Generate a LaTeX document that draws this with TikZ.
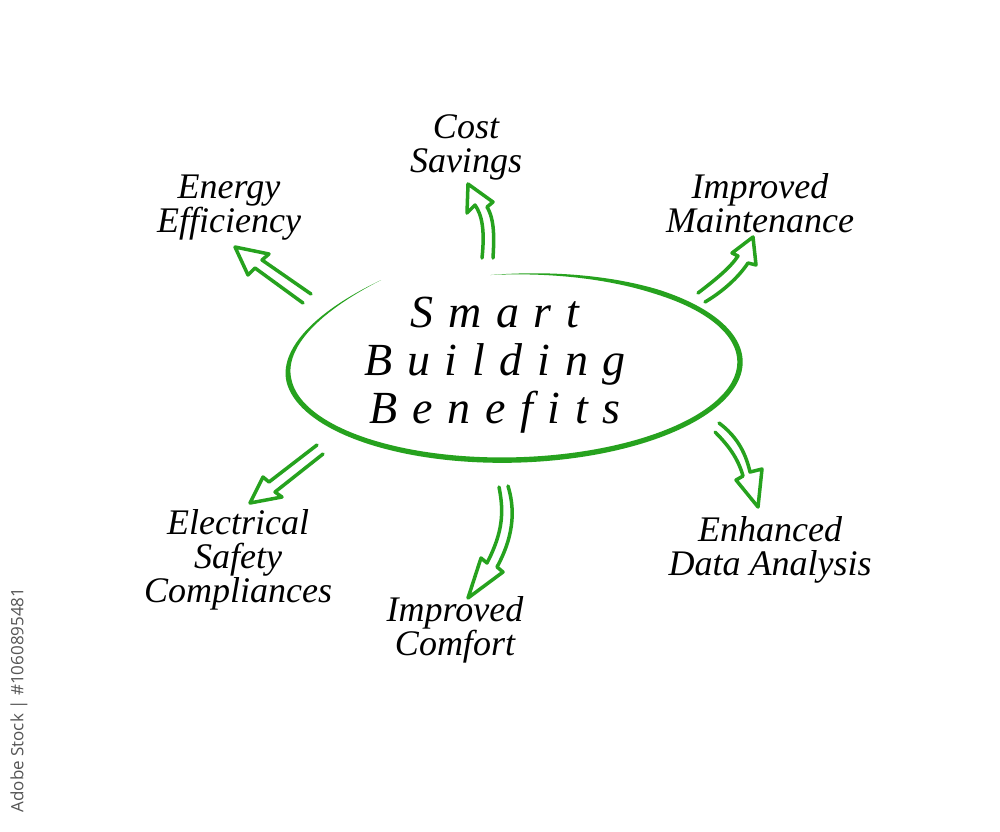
\documentclass[tikz,border=0pt]{standalone}
\usepackage{fontspec}
\setmainfont{Liberation Serif}
\newfontfamily\wmfont{Open Sans}
\definecolor{gr}{RGB}{38,162,30}
\definecolor{wmgrey}{RGB}{85,85,85}
\begin{document}
\begin{tikzpicture}[x=1pt,y=-1pt,
  declare function={w(\t)=2.7*min(1,(96-\t)/45)*min(1,(\t+234)/60);
                    q(\t)=max(0,-180-\t)/54;
                    o(\t)=-5*cos(\t)-14.7*q(\t)*q(\t);},
  lbl/.style={align=center,font=\itshape\fontsize{36}{34}\selectfont,inner sep=0pt},
  ttl/.style={align=center,font=\itshape\fontsize{46}{48}\selectfont\addfontfeature{LetterSpace=32},inner sep=0pt},
  arr/.style={draw=gr,line width=3.5,line join=round,line cap=round},
  wm/.style={font=\wmfont\fontsize{17}{17}\selectfont,text=wmgrey,rotate=90,inner sep=0pt}]
\fill[white] (0,0) rectangle (1000,831);
\useasboundingbox (0,0) rectangle (1000,831);
% central ellipse stroke (tapered)
\fill[gr] plot[domain=96:-234,samples=240,variable=\t]
   ({514+(226+w(\t))*cos(\t)},{367-(93+w(\t))*sin(\t)+o(\t)})
   -- plot[domain=-234:96,samples=240,variable=\t]
   ({514+(226-w(\t))*cos(\t)},{367-(93-w(\t))*sin(\t)+o(\t)}) -- cycle;
\node[ttl] (title) at (495,365) {Smart\\Building\\Benefits};
% labels
\node[lbl] (cost) at (466,147) {Cost\\Savings};
\node[lbl] (energy) at (229,208) {Energy\\Efficiency};
\node[lbl] (maint) at (760,203) {Improved\\Maintenance};
\node[lbl] (elec) at (238,560) {Electrical\\Safety\\Compliances};
\node[lbl] (comfort) at (455,630) {Improved\\Comfort};
\node[lbl] (data) at (770,550) {Enhanced\\Data Analysis};
% arrows (hollow, open at base)
\draw[arr] (311,294) -- (262,260) -- (269,254) -- (235,247) -- (248,275) -- (255,268) -- (303,303);
\draw[arr] (482,258) .. controls (485,230) and (482,215) .. (475,205) -- (467,213) -- (468,184) -- (493,202) -- (487,207) .. controls (495,220) and (494,240) .. (493,258);
\draw[arr] (698,293) .. controls (715,280) and (730,268) .. (738,256) -- (732,253) -- (753,237) -- (756,265) -- (748,263) .. controls (738,278) and (722,292) .. (705,302);
\draw[arr] (719,423) .. controls (735,435) and (745,450) .. (750,472) -- (762,469) -- (758,507) -- (736,480) -- (743,476) .. controls (738,458) and (728,445) .. (715,432);
\draw[arr] (499,487) .. controls (504,512) and (503,532) .. (487,563) -- (481,558) -- (468,598) -- (503,572) -- (497,567) .. controls (516,532) and (514,506) .. (508,486);
\draw[arr] (317,445) -- (269,482) -- (263,477) -- (250,503) -- (282,497) -- (275,492) -- (323,454);
% watermark
\node[wm] (mark) at (19,700) {Adobe Stock | \#1060895481};
\end{tikzpicture}
\end{document}
